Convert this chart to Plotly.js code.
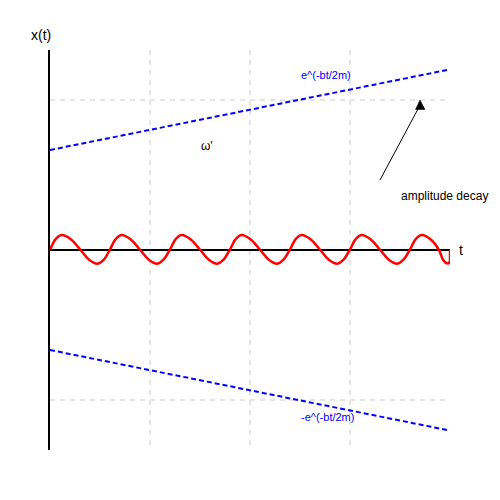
<!DOCTYPE html>
<html>
<head>
<meta charset="utf-8">
<script src="https://cdn.plot.ly/plotly-3.0.1.min.js"></script>
<style>
  body { margin: 0; background: #fff; }
  #graph { width: 500px; height: 500px; }
</style>
</head>
<body>
<div id="graph"></div>
<script>
// oscillation, eight points per cycle
var waveT = [0, 0.055, 0.116, 0.211, 0.306, 0.391, 0.476, 0.538,
    0.597, 0.655, 0.713, 0.808, 0.903, 0.988, 1.073, 1.135,
    1.197, 1.255, 1.313, 1.408, 1.503, 1.588, 1.673, 1.735,
    1.797, 1.855, 1.913, 2.008, 2.103, 2.188, 2.273, 2.335,
    2.397, 2.455, 2.513, 2.608, 2.703, 2.788, 2.873, 2.935,
    2.997, 3.055, 3.113, 3.208, 3.303, 3.388, 3.473, 3.535,
    3.597, 3.655, 3.713, 3.808, 3.89, 3.93, 3.97]
var waveX = [0, 0.106, 0.15, 0.106, 0, -0.097, -0.137, -0.097,
    0, 0.106, 0.15, 0.106, 0, -0.097, -0.137, -0.097,
    0, 0.106, 0.15, 0.106, 0, -0.097, -0.137, -0.097,
    0, 0.106, 0.15, 0.106, 0, -0.097, -0.137, -0.097,
    0, 0.106, 0.15, 0.106, 0, -0.097, -0.137, -0.097,
    0, 0.106, 0.15, 0.106, 0, -0.097, -0.137, -0.097,
    0, 0.106, 0.15, 0.106, 0, -0.097, -0.137]
// the curve is cut off at the end and closed back to the axis
var tailT = [3.97, 3.99, 4.0, 4.0]
var tailX = [-0.137, -0.13, -0.11, 0]

// envelope lines
var envT = [0, 3.97]
var envUpper = [1.0, 1.8]
var envLower = [-1.0, -1.8]

var wave = {
    x: waveT,
    y: waveX,
    mode: 'lines',
    type: 'scatter',
    line: {color: '#ff0000', width: 2.5, shape: 'spline', smoothing: 1},
    hoverinfo: 'skip'
}
var tail = {
    x: tailT,
    y: tailX,
    mode: 'lines',
    type: 'scatter',
    line: {color: '#ff0000', width: 2.5},
    hoverinfo: 'skip'
}
var upper = {
    x: envT,
    y: envUpper,
    mode: 'lines',
    type: 'scatter',
    line: {color: '#0000ff', width: 2, dash: '5px,3px'},
    hoverinfo: 'skip'
}
var lower = {
    x: envT,
    y: envLower,
    mode: 'lines',
    type: 'scatter',
    line: {color: '#0000ff', width: 2, dash: '5px,3px'},
    hoverinfo: 'skip'
}

var fam = 'Liberation Sans, Arial, sans-serif'

function label(txt, x, y, size, color, ref) {
    return {
        text: txt, x: x, y: y, xref: ref || 'x', yref: ref ? ref : 'y',
        xanchor: 'left', yanchor: 'middle', showarrow: false,
        font: {family: fam, size: size, color: color}
    }
}

var layout = {
    width: 500,
    height: 500,
    margin: {l: 50, r: 50, t: 50, b: 50},
    paper_bgcolor: '#fff',
    plot_bgcolor: '#fff',
    showlegend: false,
    xaxis: {
        range: [0, 4],
        tickvals: [1, 2, 3],
        showticklabels: false,
        ticks: '',
        showgrid: true,
        gridcolor: '#e5e5e5',
        gridwidth: 2,
        griddash: '5px,5px',
        zeroline: false,
        showline: false
    },
    yaxis: {
        range: [-2, 2],
        tickvals: [-1.5, 1.5],
        showticklabels: false,
        ticks: '',
        showgrid: true,
        gridcolor: '#e5e5e5',
        gridwidth: 2,
        griddash: '5px,5px',
        zeroline: true,
        zerolinecolor: '#000',
        zerolinewidth: 2,
        showline: true,
        linecolor: '#000',
        linewidth: 2
    },
    // pointer for the "amplitude decay" note, upright arrow head
    shapes: [
        {type: 'line', xref: 'x', yref: 'y', x0: 3.3, y0: 0.7, x1: 3.685, y1: 1.42,
            line: {color: '#000', width: 1}},
        {type: 'path', xref: 'x', yref: 'y', path: 'M3.7,1.5 L3.655,1.405 L3.75,1.405 Z',
            fillcolor: '#000', line: {color: '#000', width: 0.5}}
    ],
    annotations: [
        label('x(t)', -0.0525, 1.0375, 14, '#000', 'paper'),
        label('t', 1.0175, 0.5, 14, '#000', 'paper'),
        label('e^(-bt/2m)', 2.49, 1.75, 11, '#0000ff'),
        label('-e^(-bt/2m)', 2.49, -1.665, 11, '#0000ff'),
        label("ω'", 1.49, 1.04, 12, '#000'),
        label('amplitude decay', 3.49, 0.545, 12, '#000')
    ]
}

Plotly.newPlot('graph', [wave, tail, upper, lower], layout, {staticPlot: true})
</script>
</body>
</html>
